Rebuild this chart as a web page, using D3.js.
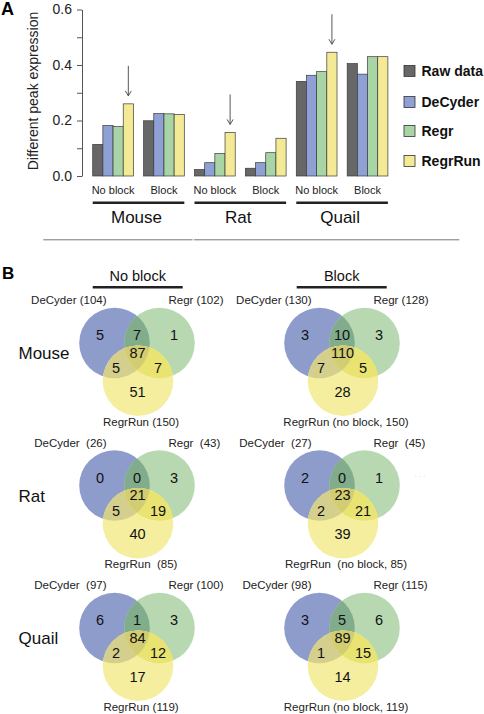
<!DOCTYPE html>
<html><head><meta charset="utf-8">
<script src="https://cdn.jsdelivr.net/npm/d3@7"></script>
<style>
html,body{margin:0;padding:0;background:#fff;}
svg{display:block;font-family:"Liberation Sans",Arial,sans-serif;}
</style></head>
<body>
<svg id="chart" width="484" height="714"></svg>
<script>
// ---------- DATA ----------
const species = ["Mouse", "Rat", "Quail"];
const conditions = ["No block", "Block"];
const methods = ["Raw data", "DeCyder", "Regr", "RegrRun"];
// values per group: Mouse NB, Mouse B, Rat NB, Rat B, Quail NB, Quail B
const rawData = [0.114, 0.199, 0.023, 0.028, 0.341, 0.405];
const decyder = [0.182, 0.225, 0.048, 0.048, 0.363, 0.367];
const regr    = [0.178, 0.224, 0.081, 0.084, 0.376, 0.430];
const regrRun = [0.260, 0.222, 0.157, 0.136, 0.446, 0.430];
const yTicks = [0, 0.2, 0.4, 0.6];
const yMinorTicks = [0.1, 0.3, 0.5];
const arrowGroups = [0, 2, 4]; // RegrRun bars in "No block" groups

// Venn: [DeCyder only, DeCyder∩Regr, Regr only, all three, DeCyder∩RegrRun, Regr∩RegrRun, RegrRun only]
const vennCounts = [
  [[5, 7, 1, 87, 5, 7, 51], [3, 10, 3, 110, 7, 5, 28]],
  [[0, 0, 3, 21, 5, 19, 40], [2, 0, 1, 23, 2, 21, 39]],
  [[6, 1, 3, 84, 2, 12, 17], [3, 5, 6, 89, 1, 15, 14]]
];
const decyderLabels = [["DeCyder (104)", "DeCyder (130)"], ["DeCyder  (26)", "DeCyder  (27)"], ["DeCyder  (97)", "DeCyder (98)"]];
const regrLabels = [["Regr (102)", "Regr (128)"], ["Regr  (43)", "Regr  (45)"], ["Regr (100)", "Regr (115)"]];
const regrRunLabels = [["RegrRun (150)", "RegrRun (no block, 150)"], ["RegrRun  (85)", "RegrRun  (no block, 85)"], ["RegrRun (119)", "RegrRun (no block, 119)"]];

// ---------- STYLE ----------
const barColors = ["#676767", "#8ea0d4", "#a9d4a6", "#f4ea96"];
const svg = d3.select("#chart");

// ---------- PANEL A ----------
const groupKeys = d3.range(6);
const series = [rawData, decyder, regr, regrRun];
const x0 = d3.scaleBand().domain(groupKeys).range([92.7, 387.9]).paddingInner(0.2).paddingOuter(0);
const x1 = d3.scaleBand().domain(d3.range(methods.length)).range([0, x0.bandwidth()]);
const y = d3.scaleLinear().domain([0, 0.6]).range([176, 9.5]);

svg.append("text").attr("x", 1).attr("y", 15).attr("font-size", 18).attr("font-weight", "bold").text("A");

// axis
const yAxis = svg.append("g").attr("transform", "translate(82,0)")
  .call(d3.axisLeft(y).tickValues(yTicks).tickFormat(d3.format(".1f")).tickSize(5).tickSizeOuter(0));
yAxis.select(".domain").attr("stroke", "#555");
yAxis.selectAll(".tick line").attr("stroke", "#555");
yAxis.selectAll(".tick text").attr("font-size", 14).attr("fill", "#222").attr("x", -10)
  .attr("font-family", "Liberation Sans, Arial, sans-serif");
const yMinor = svg.append("g").attr("transform", "translate(82,0)")
  .call(d3.axisLeft(y).tickValues(yMinorTicks).tickFormat("").tickSize(5).tickSizeOuter(0));
yMinor.select(".domain").remove();
yMinor.selectAll(".tick line").attr("stroke", "#555");

svg.append("text").attr("transform", "translate(38,91) rotate(-90)").attr("text-anchor", "middle")
  .attr("font-size", 14).attr("fill", "#222").text("Different peak expression");

// bars
const gGroups = svg.append("g").selectAll("g").data(groupKeys).join("g")
  .attr("transform", d => `translate(${x0(d)},0)`);
gGroups.selectAll("rect").data(g => series.map((s, m) => ({ m, v: s[g] }))).join("rect")
  .attr("x", d => x1(d.m)).attr("width", x1.bandwidth())
  .attr("y", d => y(d.v)).attr("height", d => y(0) - y(d.v))
  .attr("fill", d => barColors[d.m]).attr("stroke", "#3a3a3a").attr("stroke-width", 0.7);

// condition labels
svg.append("g").selectAll("text").data(groupKeys).join("text")
  .attr("x", d => x0(d) + x0.bandwidth() / 2).attr("y", 194)
  .attr("text-anchor", "middle").attr("font-size", 11).attr("fill", "#222")
  .text(d => conditions[d % 2]);

// species underline + label
species.forEach((sp, i) => {
  const xa = x0(i * 2), xb = x0(i * 2 + 1) + x0.bandwidth();
  svg.append("line").attr("x1", xa).attr("x2", xb).attr("y1", 202.7).attr("y2", 202.7)
    .attr("stroke", "#222").attr("stroke-width", 2.6);
  svg.append("text").attr("x", (xa + xb) / 2 - 2).attr("y", 223).attr("text-anchor", "middle")
    .attr("font-size", 17).attr("fill", "#111").text(sp);
});

// arrows
arrowGroups.forEach(g => {
  const ax = x0(g) + x1(3) + x1.bandwidth() / 2;
  const tip = y(regrRun[g]) - 8;
  svg.append("line").attr("x1", ax).attr("x2", ax).attr("y1", tip - 30).attr("y2", tip)
    .attr("stroke", "#444").attr("stroke-width", 0.9);
  svg.append("path").attr("d", `M${ax - 3},${tip - 5}L${ax},${tip}L${ax + 3},${tip - 5}`)
    .attr("fill", "none").attr("stroke", "#444").attr("stroke-width", 0.9);
});

// legend
const legendY = [71, 102, 131, 161];
methods.forEach((m, i) => {
  svg.append("rect").attr("x", 404).attr("y", legendY[i] - 5.5).attr("width", 11).attr("height", 11)
    .attr("fill", barColors[i]).attr("stroke", "#333").attr("stroke-width", 0.8);
  svg.append("text").attr("x", 421.5).attr("y", legendY[i] + 5).attr("font-size", 14)
    .attr("font-weight", "bold").attr("fill", "#111").text(m);
});

// separator
svg.append("line").attr("x1", 43.3).attr("x2", 192.6).attr("y1", 239.8).attr("y2", 239.8).attr("stroke", "#777").attr("stroke-width", 1);
svg.append("line").attr("x1", 193.8).attr("x2", 459.3).attr("y1", 239.8).attr("y2", 239.8).attr("stroke", "#777").attr("stroke-width", 1);

// ---------- PANEL B ----------
svg.append("text").attr("x", 2).attr("y", 279).attr("font-size", 17).attr("font-weight", "bold").text("B");

const colCenters = [137, 342];
const rowCenters = [343, 485.5, 628];
const underlineX = [[92.7, 182.7], [296.7, 386.7]];
conditions.forEach((c, j) => {
  svg.append("text").attr("x", (underlineX[j][0] + underlineX[j][1]) / 2).attr("y", 281)
    .attr("text-anchor", "middle").attr("font-size", 14.5).attr("fill", "#111").text(c);
  svg.append("line").attr("x1", underlineX[j][0]).attr("x2", underlineX[j][1]).attr("y1", 287.3).attr("y2", 287.3)
    .attr("stroke", "#222").attr("stroke-width", 2.5);
});

const R = 35.3;
const defs = svg.append("defs");
const regionColors = {
  blue: "#8e9ccc", green: "#b8d8b2", bg: "#82ad8c",
  yellow: "#f4ee9e", yb: "#d5cf8e", yg: "#e9e372", ybg: "#d2cd72"
};
species.forEach((sp, i) => {
  const cy = rowCenters[i];
  svg.append("text").attr("x", 18.5).attr("y", cy + 10.5).attr("dy", "0.35em")
    .attr("font-size", 17).attr("fill", "#111").text(sp);
  conditions.forEach((c, j) => {
    const cx = colCenters[j];
    const circ = {
      b: [cx - 22.5, cy], g: [cx + 22.5, cy], y: [cx + 1, cy + 37.7]
    };
    const id = `v${i}${j}`;
    Object.entries(circ).forEach(([k, p]) => {
      defs.append("clipPath").attr("id", `${id}${k}`).append("circle")
        .attr("cx", p[0]).attr("cy", p[1]).attr("r", R);
    });
    const gv = svg.append("g");
    const circle = (k, fill, clip) => {
      const el = gv.append("circle").attr("cx", circ[k][0]).attr("cy", circ[k][1]).attr("r", R).attr("fill", fill);
      if (clip) el.attr("clip-path", `url(#${id}${clip})`);
      return el;
    };
    circle("b", regionColors.blue);
    circle("g", regionColors.green);
    circle("g", regionColors.bg, "b");
    circle("y", regionColors.yellow);
    circle("y", regionColors.yb, "b");
    circle("y", regionColors.yg, "g");
    gv.append("g").attr("clip-path", `url(#${id}b)`)
      .append("circle").attr("cx", circ.y[0]).attr("cy", circ.y[1]).attr("r", R)
      .attr("fill", regionColors.ybg).attr("clip-path", `url(#${id}g)`);

    const counts = vennCounts[i][j];
    const pos = [[-37, -8], [0, -8], [37, -8], [0.5, 9.5], [-21, 25], [21, 25], [0.5, 48.5]];
    counts.forEach((n, k) => {
      svg.append("text").attr("x", cx + pos[k][0]).attr("y", cy + pos[k][1]).attr("dy", "0.35em")
        .attr("text-anchor", "middle").attr("font-size", 14.5).attr("fill", "#111").text(n);
    });
    svg.append("text").attr("x", cx - 30.5).attr("y", cy - 42.6).attr("dy", "0.35em")
      .attr("text-anchor", "end").attr("font-size", 11.5).attr("fill", "#222")
      .style("white-space", "pre").text(decyderLabels[i][j]);
    svg.append("text").attr("x", cx + 31.5).attr("y", cy - 42.6).attr("dy", "0.35em")
      .attr("text-anchor", "start").attr("font-size", 11.5).attr("fill", "#222")
      .style("white-space", "pre").text(regrLabels[i][j]);
    svg.append("text").attr("x", cx + 4).attr("y", cy + 78.5).attr("dy", "0.35em")
      .attr("text-anchor", "middle").attr("font-size", 11.5).attr("fill", "#222")
      .style("white-space", "pre").text(regrRunLabels[i][j]);
  });
});
// faint artifact dots
svg.append("text").attr("x", 420).attr("y", 479).attr("text-anchor", "middle")
  .attr("font-size", 7).attr("fill", "#c8c8c8").text("· · ·");
</script>
</body></html>
